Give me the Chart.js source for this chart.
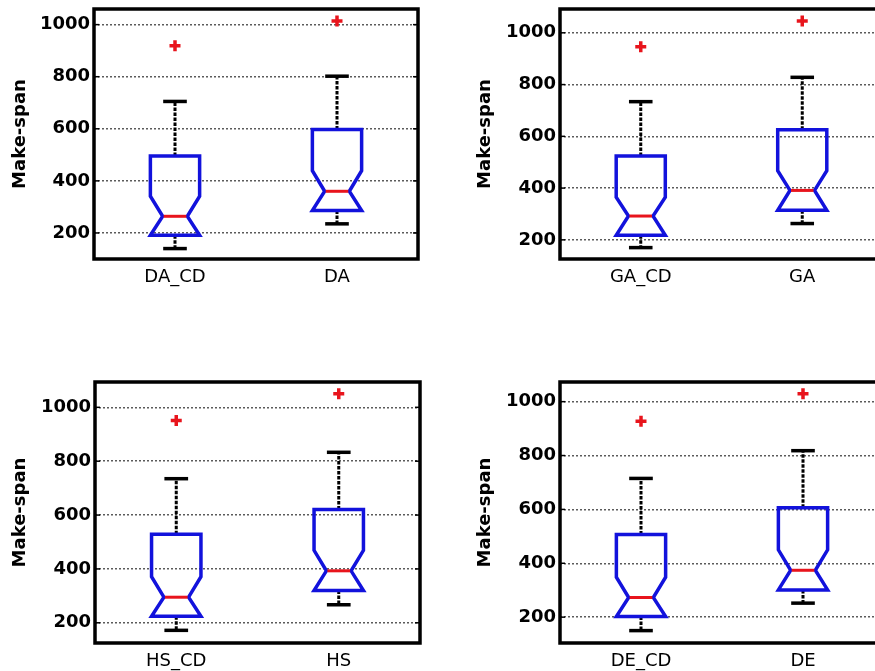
<!DOCTYPE html>
<html><head><meta charset="utf-8">
<script src="https://cdn.jsdelivr.net/npm/chart.js@4.4.1/dist/chart.umd.min.js"></script>
<style>
html,body{margin:0;padding:0;background:#fff;overflow:hidden;width:875px;height:671px;position:relative;}
canvas{position:absolute;}
</style></head><body>
<canvas id="c1"></canvas><canvas id="c2"></canvas><canvas id="c3"></canvas><canvas id="c4"></canvas>
<script>
// ---- data ----
const yTickValues = [200, 400, 600, 800, 1000];
const yTitle = 'Make-span';

const labelsDA = ['DA_CD', 'DA'];
const whiskerHighDA = [705, 802];
const q3DA = [496, 597];
const notchHighDA = [341, 439];
const medianDA = [264, 360];
const notchLowDA = [191, 286];
const q1DA = [191, 286];
const whiskerLowDA = [140, 235];
const outliersDA = [919, 1014];
const yRangeDA = [100, 1060];

const labelsGA = ['GA_CD', 'GA'];
const whiskerHighGA = [734, 828];
const q3GA = [524, 625];
const notchHighGA = [365, 467];
const medianGA = [292, 391];
const notchLowGA = [218, 314];
const q1GA = [218, 314];
const whiskerLowGA = [170, 263];
const outliersGA = [946, 1046];
const yRangeGA = [126, 1092];

const labelsHS = ['HS_CD', 'HS'];
const whiskerHighHS = [735, 833];
const q3HS = [529, 621];
const notchHighHS = [371, 469];
const medianHS = [295, 393];
const notchLowHS = [224, 320];
const q1HS = [224, 320];
const whiskerLowHS = [172, 267];
const outliersHS = [951, 1050];
const yRangeHS = [125, 1094];

const labelsDE = ['DE_CD', 'DE'];
const whiskerHighDE = [715, 818];
const q3DE = [507, 606];
const notchHighDE = [348, 450];
const medianDE = [273, 374];
const notchLowDE = [202, 301];
const q1DE = [202, 301];
const whiskerLowDE = [150, 252];
const outliersDE = [927, 1029];
const yRangeDE = [104, 1073];

// ---- styles ----
const BLUE = '#1212dc';
const RED = '#e8141c';
const FONT = 'DejaVu Sans';

const boxPlugin = {
  id: 'notchedBoxes',
  afterDatasetsDraw(chart, args, opts) {
    const s = opts.stats;
    if (!s) return;
    const xs = chart.scales.x, ys = chart.scales.y, ctx = chart.ctx;
    const unit = xs.getPixelForValue(1) - xs.getPixelForValue(0);
    const hw = unit * 0.152, nw = hw * 0.5, cw = hw * 0.48;
    const Y = v => ys.getPixelForValue(v);
    const seg = (x1, y1, x2, y2) => { ctx.beginPath(); ctx.moveTo(x1, y1); ctx.lineTo(x2, y2); ctx.stroke(); };
    for (let i = 0; i < s.median.length; i++) {
      const cx = xs.getPixelForValue(i);
      ctx.save();
      ctx.strokeStyle = '#000';
      ctx.lineWidth = 3;
      ctx.setLineDash([3.5, 1.5]);
      seg(cx, Y(s.q3[i]), cx, Y(s.whiskerHigh[i]));
      seg(cx, Y(s.q1[i]), cx, Y(s.whiskerLow[i]));
      ctx.setLineDash([]);
      ctx.lineWidth = 3.5;
      seg(cx - cw, Y(s.whiskerHigh[i]), cx + cw, Y(s.whiskerHigh[i]));
      seg(cx - cw, Y(s.whiskerLow[i]), cx + cw, Y(s.whiskerLow[i]));
      ctx.strokeStyle = BLUE;
      ctx.lineWidth = 3.5;
      ctx.lineJoin = 'miter';
      ctx.beginPath();
      ctx.moveTo(cx - hw, Y(s.q3[i]));
      ctx.lineTo(cx + hw, Y(s.q3[i]));
      ctx.lineTo(cx + hw, Y(s.notchHigh[i]));
      ctx.lineTo(cx + nw, Y(s.median[i]));
      ctx.lineTo(cx + hw, Y(s.notchLow[i]));
      ctx.lineTo(cx + hw, Y(s.q1[i]));
      ctx.lineTo(cx - hw, Y(s.q1[i]));
      ctx.lineTo(cx - hw, Y(s.notchLow[i]));
      ctx.lineTo(cx - nw, Y(s.median[i]));
      ctx.lineTo(cx - hw, Y(s.notchHigh[i]));
      ctx.closePath();
      ctx.stroke();
      ctx.strokeStyle = RED;
      ctx.lineWidth = 3;
      seg(cx - nw + 1, Y(s.median[i]), cx + nw - 1, Y(s.median[i]));
      ctx.restore();
    }
  },
  afterDraw(chart) {
    const a = chart.chartArea, ctx = chart.ctx, ys = chart.scales.y;
    ctx.save();
    ctx.strokeStyle = '#000';
    ctx.lineWidth = 1.5;
    ys.ticks.forEach(t => {
      const py = ys.getPixelForValue(t.value);
      ctx.beginPath(); ctx.moveTo(a.left, py); ctx.lineTo(a.left + 5, py); ctx.stroke();
      ctx.beginPath(); ctx.moveTo(a.right, py); ctx.lineTo(a.right - 5, py); ctx.stroke();
    });
    ctx.lineWidth = 3.5;
    ctx.strokeRect(a.left, a.top, a.right - a.left, a.bottom - a.top);
    ctx.restore();
  }
};

// canvas box (page px) and chart area (page px)
function makePanel(id, box, area, labels, stats, outliers, yRange) {
  const cv = document.getElementById(id);
  cv.width = box.w; cv.height = box.h;
  cv.style.left = box.x + 'px'; cv.style.top = box.y + 'px';
  const yW = area.left - box.x;
  const xH = box.y + box.h - area.bottom;
  new Chart(cv, {
    type: 'line',
    data: {
      labels: labels,
      datasets: [{
        data: outliers,
        showLine: false,
        pointStyle: 'cross',
        pointRadius: 5.5,
        pointBorderWidth: 3.5,
        borderColor: RED,
        backgroundColor: RED,
        pointHoverRadius: 5.5
      }]
    },
    options: {
      responsive: false,
      animation: false,
      events: [],
      layout: { padding: { left: 0, bottom: 0, top: area.top - box.y, right: box.x + box.w - area.right } },
      plugins: { legend: { display: false }, tooltip: { enabled: false }, notchedBoxes: { stats: stats } },
      scales: {
        x: {
          type: 'category',
          offset: true,
          grid: { display: false, drawTicks: false },
          border: { display: false },
          ticks: { color: '#000', padding: 8, font: { family: FONT, size: 18 }, maxRotation: 0 },
          afterFit: s => { s.height = xH; s.paddingLeft = 0; s.paddingRight = 0; }
        },
        y: {
          min: yRange[0], max: yRange[1],
          afterBuildTicks: s => { s.ticks = yTickValues.map(v => ({ value: v })); },
          grid: { color: 'rgba(50,50,50,0.8)', lineWidth: 1.5, drawTicks: false },
          border: { display: false, dash: [2, 2] },
          ticks: { color: '#000', padding: 4, font: { family: FONT, size: 18, weight: 'bold' }, callback: v => String(v) },
          title: { display: true, text: yTitle, color: '#000', padding: { top: 10, bottom: 0 }, font: { family: FONT, size: 18, weight: 'bold' } },
          afterFit: s => { s.width = yW; s.paddingTop = 0; s.paddingBottom = 0; }
        }
      }
    },
    plugins: [boxPlugin]
  });
}

makePanel('c1', { x: 0, y: 0, w: 437, h: 300 }, { left: 94, top: 6, right: 418, bottom: 259 }, labelsDA,
  { whiskerHigh: whiskerHighDA, q3: q3DA, notchHigh: notchHighDA, median: medianDA, notchLow: notchLowDA, q1: q1DA, whiskerLow: whiskerLowDA },
  outliersDA, yRangeDA);
makePanel('c2', { x: 465, y: 0, w: 430, h: 300 }, { left: 560, top: 7, right: 883, bottom: 259 }, labelsGA,
  { whiskerHigh: whiskerHighGA, q3: q3GA, notchHigh: notchHighGA, median: medianGA, notchLow: notchLowGA, q1: q1GA, whiskerLow: whiskerLowGA },
  outliersGA, yRangeGA);
makePanel('c3', { x: 0, y: 372, w: 437, h: 310 }, { left: 95, top: 382, right: 420, bottom: 643 }, labelsHS,
  { whiskerHigh: whiskerHighHS, q3: q3HS, notchHigh: notchHighHS, median: medianHS, notchLow: notchLowHS, q1: q1HS, whiskerLow: whiskerLowHS },
  outliersHS, yRangeHS);
makePanel('c4', { x: 465, y: 372, w: 430, h: 310 }, { left: 560, top: 382, right: 884, bottom: 643 }, labelsDE,
  { whiskerHigh: whiskerHighDE, q3: q3DE, notchHigh: notchHighDE, median: medianDE, notchLow: notchLowDE, q1: q1DE, whiskerLow: whiskerLowDE },
  outliersDE, yRangeDE);
</script>
</body></html>
